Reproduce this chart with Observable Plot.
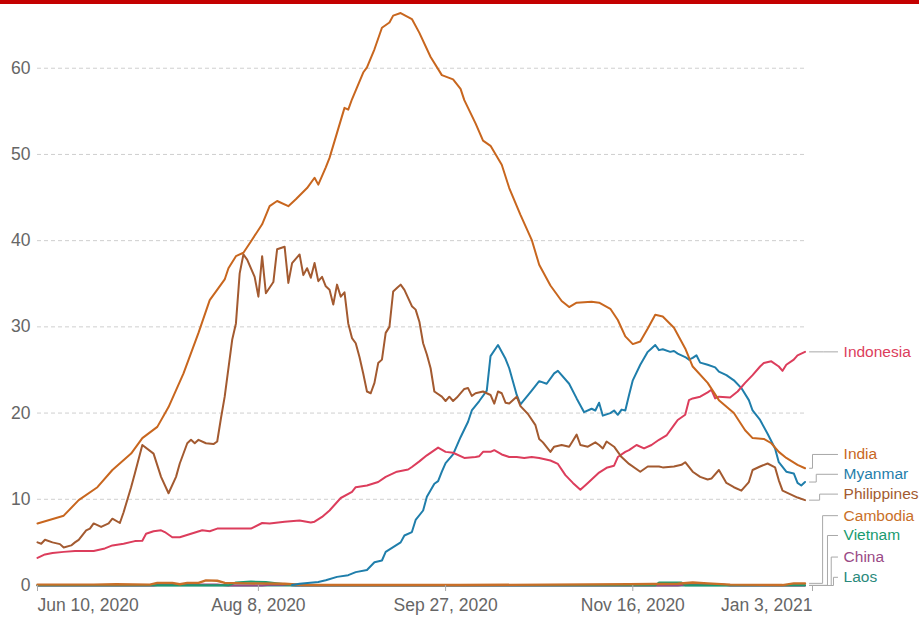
<!DOCTYPE html>
<html><head><meta charset="utf-8">
<script src="https://cdn.jsdelivr.net/npm/d3@7"></script>
<script src="https://cdn.jsdelivr.net/npm/@observablehq/plot@0.6"></script>
<style>
body{margin:0;background:#fff;}
#bar{height:4px;background:#c40000;width:919px;}
</style></head><body>
<div id="bar"></div>
<div id="chart"></div>
<script>
// ---- DATA (date, value) ----
const india = [["2020-06-10",7.2],["2020-06-17",8.1],["2020-06-21",9.9],["2020-06-26",11.4],["2020-06-30",13.4],
["2020-07-05",15.3],["2020-07-08",17.1],["2020-07-12",18.4],["2020-07-15",20.7],["2020-07-19",24.6],
["2020-07-23",29.3],["2020-07-26",33.1],["2020-07-30",35.5],["2020-07-31",36.8],["2020-08-02",38.2],
["2020-08-04",38.6],["2020-08-06",39.9],["2020-08-09",41.9],["2020-08-11",44.0],["2020-08-13",44.6],
["2020-08-16",44.0],["2020-08-18",44.8],["2020-08-21",46.1],["2020-08-23",47.3],["2020-08-24",46.5],
["2020-08-26",48.5],["2020-08-27",49.6],["2020-08-29",52.5],["2020-08-31",55.4],["2020-09-01",55.2],
["2020-09-02",56.4],["2020-09-05",59.5],["2020-09-06",60.1],["2020-09-08",62.2],["2020-09-10",64.7],
["2020-09-12",65.3],["2020-09-13",66.1],["2020-09-15",66.4],["2020-09-18",65.7],["2020-09-20",64.1],
["2020-09-23",61.3],["2020-09-26",59.2],["2020-09-29",58.7],["2020-10-01",57.6],["2020-10-02",56.3],
["2020-10-05",53.6],["2020-10-07",51.6],["2020-10-09",51.0],["2020-10-12",48.8],["2020-10-14",46.1],
["2020-10-17",43.0],["2020-10-20",40.1],["2020-10-22",37.2],["2020-10-25",34.8],["2020-10-28",33.0],
["2020-10-30",32.3],["2020-11-01",32.8],["2020-11-05",32.9],["2020-11-07",32.8],["2020-11-10",32.1],
["2020-11-12",30.8],["2020-11-14",28.9],["2020-11-16",28.0],["2020-11-18",28.3],["2020-11-20",29.8],
["2020-11-22",31.4],["2020-11-24",31.2],["2020-11-27",29.9],["2020-11-30",27.5],["2020-12-02",25.4],
["2020-12-06",23.5],["2020-12-09",21.5],["2020-12-13",20.0],["2020-12-16",18.0],["2020-12-18",17.1],
["2020-12-21",17.0],["2020-12-23",16.5],["2020-12-25",15.5],["2020-12-27",14.8],["2020-12-30",14.0],
["2021-01-01",13.6]];

const philippines = [["2020-06-10",5.0],["2020-06-11",4.85],["2020-06-12",5.3],["2020-06-14",5.0],["2020-06-16",4.8],["2020-06-17",4.4],["2020-06-19",4.65],["2020-06-20",5.0],["2020-06-21",5.3],["2020-06-23",6.4],["2020-06-24",6.6],["2020-06-25",7.2],["2020-06-27",6.8],["2020-06-29",7.2],["2020-06-30",7.75],["2020-07-02",7.25],["2020-07-03",8.5],["2020-07-05",11.4],["2020-07-06",13.0],["2020-07-08",16.3],["2020-07-11",15.3],["2020-07-13",12.6],["2020-07-15",10.7],["2020-07-17",12.6],["2020-07-18",14.15],["2020-07-20",16.5],["2020-07-21",16.9],["2020-07-22",16.5],["2020-07-23",16.9],["2020-07-25",16.5],["2020-07-27",16.4],["2020-07-28",16.7],["2020-07-29",19.4],["2020-07-30",21.9],["2020-08-01",28.5],["2020-08-02",30.4],["2020-08-03",36.2],["2020-08-04",38.4],["2020-08-05",37.8],["2020-08-07",35.8],["2020-08-08",33.5],["2020-08-09",38.2],["2020-08-10",33.9],["2020-08-12",35.2],["2020-08-13",39.0],["2020-08-15",39.3],["2020-08-16",35.1],["2020-08-17",37.4],["2020-08-19",38.4],["2020-08-20",36.0],["2020-08-21",36.8],["2020-08-22",35.7],["2020-08-23",37.4],["2020-08-24",35.3],["2020-08-25",35.8],["2020-08-26",34.7],["2020-08-27",34.3],["2020-08-28",32.6],["2020-08-29",34.9],["2020-08-30",33.5],["2020-08-31",34.0],["2020-09-01",30.4],["2020-09-02",28.7],["2020-09-03",28.1],["2020-09-04",26.5],["2020-09-05",24.6],["2020-09-06",22.5],["2020-09-07",22.3],["2020-09-08",23.5],["2020-09-09",25.8],["2020-09-10",26.2],["2020-09-11",29.3],["2020-09-12",30.0],["2020-09-13",34.1],["2020-09-14",34.5],["2020-09-15",34.9],["2020-09-16",34.3],["2020-09-18",32.4],["2020-09-19",32.0],["2020-09-20",30.6],["2020-09-21",28.1],["2020-09-22",26.8],["2020-09-23",25.2],["2020-09-24",22.5],["2020-09-26",21.9],["2020-09-27",21.4],["2020-09-28",21.9],["2020-09-29",21.4],["2020-09-30",21.8],["2020-10-02",22.8],["2020-10-03",22.9],["2020-10-04",22.0],["2020-10-05",22.3],["2020-10-07",22.5],["2020-10-09",22.1],["2020-10-10",21.1],["2020-10-11",22.5],["2020-10-12",22.3],["2020-10-13",21.2],["2020-10-14",21.1],["2020-10-16",21.9],["2020-10-17",20.8],["2020-10-19",19.9],["2020-10-21",18.6],["2020-10-22",17.0],["2020-10-23",16.6],["2020-10-25",15.5],["2020-10-26",16.1],["2020-10-28",16.3],["2020-10-30",16.1],["2020-10-31",16.8],["2020-11-01",17.5],["2020-11-02",16.3],["2020-11-04",16.1],["2020-11-06",16.6],["2020-11-07",16.3],["2020-11-08",15.9],["2020-11-09",16.7],["2020-11-11",16.1],["2020-11-13",14.9],["2020-11-15",14.1],["2020-11-18",13.2],["2020-11-20",13.8],["2020-11-23",13.8],["2020-11-24",13.7],["2020-11-27",13.8],["2020-11-29",14.0],["2020-11-30",14.3],["2020-12-02",13.2],["2020-12-04",12.6],["2020-12-06",12.3],["2020-12-07",12.4],["2020-12-09",13.4],["2020-12-11",11.9],["2020-12-13",11.4],["2020-12-15",11.0],["2020-12-17",12.0],["2020-12-18",13.4],["2020-12-20",13.8],["2020-12-22",14.15],["2020-12-24",13.7],["2020-12-25",12.2],["2020-12-26",11.0],["2020-12-28",10.6],["2020-12-30",10.2],["2021-01-01",9.9]];

const myanmar = [["2020-08-17",0.05],["2020-08-19",0.2],["2020-08-24",0.4],["2020-08-26",0.6],["2020-08-29",1.0],["2020-09-01",1.2],["2020-09-03",1.55],["2020-09-06",1.8],["2020-09-08",2.7],["2020-09-10",2.9],["2020-09-11",3.9],["2020-09-13",4.45],["2020-09-15",5.0],["2020-09-16",5.8],["2020-09-18",6.2],["2020-09-19",7.6],["2020-09-21",8.7],["2020-09-22",10.3],["2020-09-24",11.8],["2020-09-25",12.1],["2020-09-26",13.2],["2020-09-27",14.2],["2020-09-29",15.2],["2020-10-01",17.2],["2020-10-03",19.0],["2020-10-04",20.3],["2020-10-06",21.4],["2020-10-08",22.6],["2020-10-09",26.6],["2020-10-11",27.9],["2020-10-13",26.3],["2020-10-14",25.2],["2020-10-16",22.1],["2020-10-17",21.0],["2020-10-20",22.6],["2020-10-22",23.7],["2020-10-24",23.4],["2020-10-26",24.6],["2020-10-27",24.9],["2020-10-30",23.4],["2020-11-01",21.7],["2020-11-03",20.1],["2020-11-05",20.5],["2020-11-06",20.3],["2020-11-07",21.2],["2020-11-08",19.7],["2020-11-10",20.0],["2020-11-11",20.3],["2020-11-12",19.8],["2020-11-13",20.4],["2020-11-14",20.3],["2020-11-15",22.1],["2020-11-16",23.8],["2020-11-18",25.6],["2020-11-20",27.1],["2020-11-21",27.5],["2020-11-22",27.9],["2020-11-23",27.3],["2020-11-24",27.4],["2020-11-26",27.1],["2020-11-27",27.2],["2020-11-28",26.9],["2020-11-30",26.5],["2020-12-01",26.2],["2020-12-02",26.4],["2020-12-03",26.7],["2020-12-04",25.85],["2020-12-06",25.6],["2020-12-08",25.3],["2020-12-09",24.8],["2020-12-11",24.4],["2020-12-13",23.8],["2020-12-15",22.9],["2020-12-17",21.5],["2020-12-18",20.3],["2020-12-20",19.2],["2020-12-22",17.6],["2020-12-24",15.9],["2020-12-25",14.3],["2020-12-27",13.2],["2020-12-29",13.0],["2020-12-30",11.9],["2020-12-31",11.6],["2021-01-01",12.0]];

const indonesia = [["2020-06-10",3.2],["2020-06-12",3.6],["2020-06-14",3.76],["2020-06-17",3.9],["2020-06-20",4.0],["2020-06-22",4.0],["2020-06-25",4.0],["2020-06-28",4.3],["2020-06-30",4.65],["2020-07-03",4.85],["2020-07-06",5.15],["2020-07-08",5.2],["2020-07-09",6.0],["2020-07-11",6.3],["2020-07-13",6.4],["2020-07-14",6.2],["2020-07-16",5.6],["2020-07-18",5.6],["2020-07-21",6.0],["2020-07-24",6.4],["2020-07-26",6.3],["2020-07-28",6.6],["2020-07-30",6.6],["2020-08-01",6.6],["2020-08-06",6.6],["2020-08-09",7.25],["2020-08-11",7.2],["2020-08-15",7.4],["2020-08-19",7.55],["2020-08-22",7.3],["2020-08-23",7.4],["2020-08-25",7.95],["2020-08-27",8.7],["2020-08-30",10.15],["2020-09-02",10.85],["2020-09-03",11.4],["2020-09-06",11.6],["2020-09-09",12.0],["2020-09-11",12.6],["2020-09-14",13.2],["2020-09-17",13.45],["2020-09-18",13.75],["2020-09-20",14.4],["2020-09-22",15.1],["2020-09-25",16.0],["2020-09-27",15.5],["2020-09-29",15.4],["2020-10-02",14.8],["2020-10-05",14.9],["2020-10-06",15.0],["2020-10-07",15.5],["2020-10-09",15.5],["2020-10-10",15.7],["2020-10-12",15.2],["2020-10-14",14.9],["2020-10-16",14.9],["2020-10-18",14.8],["2020-10-20",14.9],["2020-10-22",14.8],["2020-10-25",14.5],["2020-10-27",14.1],["2020-10-29",12.8],["2020-10-31",11.9],["2020-11-02",11.1],["2020-11-04",11.9],["2020-11-07",13.1],["2020-11-09",13.65],["2020-11-11",13.9],["2020-11-12",14.9],["2020-11-14",15.5],["2020-11-15",15.7],["2020-11-17",16.3],["2020-11-19",15.9],["2020-11-21",16.3],["2020-11-23",16.9],["2020-11-25",17.4],["2020-11-27",18.6],["2020-11-28",19.2],["2020-11-30",19.8],["2020-12-01",21.5],["2020-12-02",21.7],["2020-12-04",21.9],["2020-12-06",22.4],["2020-12-07",22.7],["2020-12-08",21.7],["2020-12-09",21.9],["2020-12-12",21.8],["2020-12-14",22.5],["2020-12-16",23.5],["2020-12-18",24.4],["2020-12-20",25.4],["2020-12-21",25.8],["2020-12-23",26.0],["2020-12-25",25.4],["2020-12-26",24.9],["2020-12-27",25.6],["2020-12-29",26.2],["2020-12-30",26.7],["2021-01-01",27.1]];

const cambodia = [["2020-06-10",0.1],["2020-06-25",0.1],["2020-07-01",0.15],["2020-07-10",0.1],["2020-07-12",0.3],["2020-07-16",0.3],["2020-07-18",0.15],["2020-07-20",0.3],["2020-07-23",0.3],["2020-07-25",0.6],["2020-07-28",0.55],["2020-07-30",0.3],["2020-08-05",0.25],["2020-08-15",0.2],["2020-08-20",0.05],["2020-10-01",0.05],["2020-11-15",0.15],["2020-11-28",0.2],["2020-12-02",0.35],["2020-12-06",0.25],["2020-12-12",0.1],["2020-12-26",0.05],["2020-12-29",0.25],["2021-01-01",0.25]];

const vietnam = [["2020-06-10",0.02],["2020-07-31",0.02],["2020-08-02",0.35],["2020-08-06",0.45],["2020-08-10",0.4],["2020-08-14",0.2],["2020-08-17",0.02],["2020-11-22",0.02],["2020-11-23",0.35],["2020-11-29",0.35],["2020-11-30",0.02],["2021-01-01",0.02]];

const china = [["2020-06-10",0.0],["2020-07-11",0.0],["2020-07-13",0.12],["2020-07-28",0.12],["2020-07-31",0.0],["2020-08-09",0.0],["2020-08-11",0.1],["2020-08-16",0.1],["2020-08-18",0.0],["2020-11-28",0.0],["2020-11-30",0.12],["2020-12-10",0.12],["2020-12-12",0.0],["2021-01-01",0.0]];

const laos = [["2020-06-10",0.0],["2020-09-01",0.0],["2020-12-01",0.0],["2021-01-01",0.0]];

const countries = ["Laos","China","Vietnam","Cambodia","Myanmar","Indonesia","Philippines","India"];
const yTicks = [0,10,20,30,40,50,60];
const xTicks = ["2020-06-10","2020-08-08","2020-09-27","2020-11-16","2021-01-03"];

// ---- STYLE / LAYOUT ----
const seriesData = {India: india, Philippines: philippines, Myanmar: myanmar, Indonesia: indonesia,
  Cambodia: cambodia, Vietnam: vietnam, China: china, Laos: laos};
const colors = {India:"#c8661e", Philippines:"#a35a30", Myanmar:"#1f7eab", Indonesia:"#dc3d5c",
  Cambodia:"#c96f28", Vietnam:"#1a9b6f", China:"#9a4a86", Laos:"#2b8a7c"};
// label y (in data units) and connector elbow (days after last point)
const labelLayout = {Indonesia:{ly:27.1, elbow:5}, India:{ly:15.2, elbow:2.0}, Myanmar:{ly:12.9, elbow:3.0},
  Philippines:{ly:10.6, elbow:3.9}, Cambodia:{ly:8.1, elbow:4.7}, Vietnam:{ly:5.8, elbow:6.0},
  China:{ly:3.3, elbow:7.0}, Laos:{ly:0.95, elbow:7.6}};

function hasFont(f){const c=document.createElement("canvas").getContext("2d");c.font="40px monospace";
  const w=c.measureText("Philippines 2020").width;c.font=`40px "${f}", monospace`;return c.measureText("Philippines 2020").width!==w;}
const narrow = hasFont("Liberation Sans Narrow");
const FONT = narrow ? "'Liberation Sans Narrow', 'Liberation Sans', Arial, sans-serif" : "'Liberation Sans', Arial, sans-serif";
const axisSize = narrow ? 21 : 17.5;
const labelSize = narrow ? 18.5 : 15.5;

const parse = d3.utcParse("%Y-%m-%d");
const DAY = 864e5;
const start = parse(xTicks[0]), axisEnd = parse(xTicks[xTicks.length-1]);
const rows = c => seriesData[c].map(([d,v]) => ({date: parse(d), value: v}));
const fmt = d3.utcFormat("%b %-d, %Y");

const marks = [];
marks.push(Plot.ruleY(yTicks.slice(1), {x1: () => start, x2: () => parse("2021-01-01"), y: d => d,
  stroke: "#cfcfcf", strokeWidth: 1, strokeDasharray: "4,3"}));
// connectors + labels
for (const c of countries) {
  const r = rows(c), last = r[r.length-1], L = labelLayout[c];
  const t = k => new Date(+last.date + k*DAY);
  const pts = [{x:t(1.2), y:last.value},{x:t(L.elbow), y:last.value},{x:t(L.elbow), y:L.ly},{x:t(8.7), y:L.ly}];
  marks.push(Plot.line(pts, {x:"x", y:"y", stroke:"#a8a8a8", strokeWidth:1, curve:"linear"}));
  marks.push(Plot.text([c], {x: () => t(10.3), y: () => L.ly, text: d => d, fill: colors[c],
    textAnchor:"start", fontSize: labelSize}));
}
for (const c of countries) {
  marks.push(Plot.line(rows(c), {x:"date", y:"value", stroke: colors[c], strokeWidth: c==="Cambodia"?2.4:2, strokeLinejoin:"round"}));
}
marks.push(Plot.axisY({ticks: yTicks, tickSize: 0, tickPadding: 7, fontSize: axisSize, color: "#666", label: null}));
marks.push(Plot.axisX({ticks: xTicks.map(parse), tickSize: 6, tickFormat: () => "", stroke: "#aaa", label: null}));
const tx = xTicks.map(parse);
marks.push(Plot.axisX({ticks: [tx[0]], tickSize: 0, tickPadding: 13, tickFormat: fmt, textAnchor: "start", fontSize: axisSize, color:"#666", label: null}));
marks.push(Plot.axisX({ticks: tx.slice(1,-1), tickSize: 0, tickPadding: 13, tickFormat: fmt, fontSize: axisSize, color:"#666", label: null}));
marks.push(Plot.axisX({ticks: [tx[tx.length-1]], tickSize: 0, tickPadding: 13, tickFormat: fmt, textAnchor: "end", fontSize: axisSize, color:"#666", label: null}));

const chart = Plot.plot({
  width: 919, height: 617,
  marginLeft: 37, marginRight: 107, marginTop: 12, marginBottom: 36,
  style: {fontFamily: FONT, background: "#fff", overflow: "visible"},
  x: {type: "utc", domain: [start, axisEnd]},
  y: {domain: [0, 66]},
  marks
});
document.getElementById("chart").appendChild(chart);
</script>
</body></html>
